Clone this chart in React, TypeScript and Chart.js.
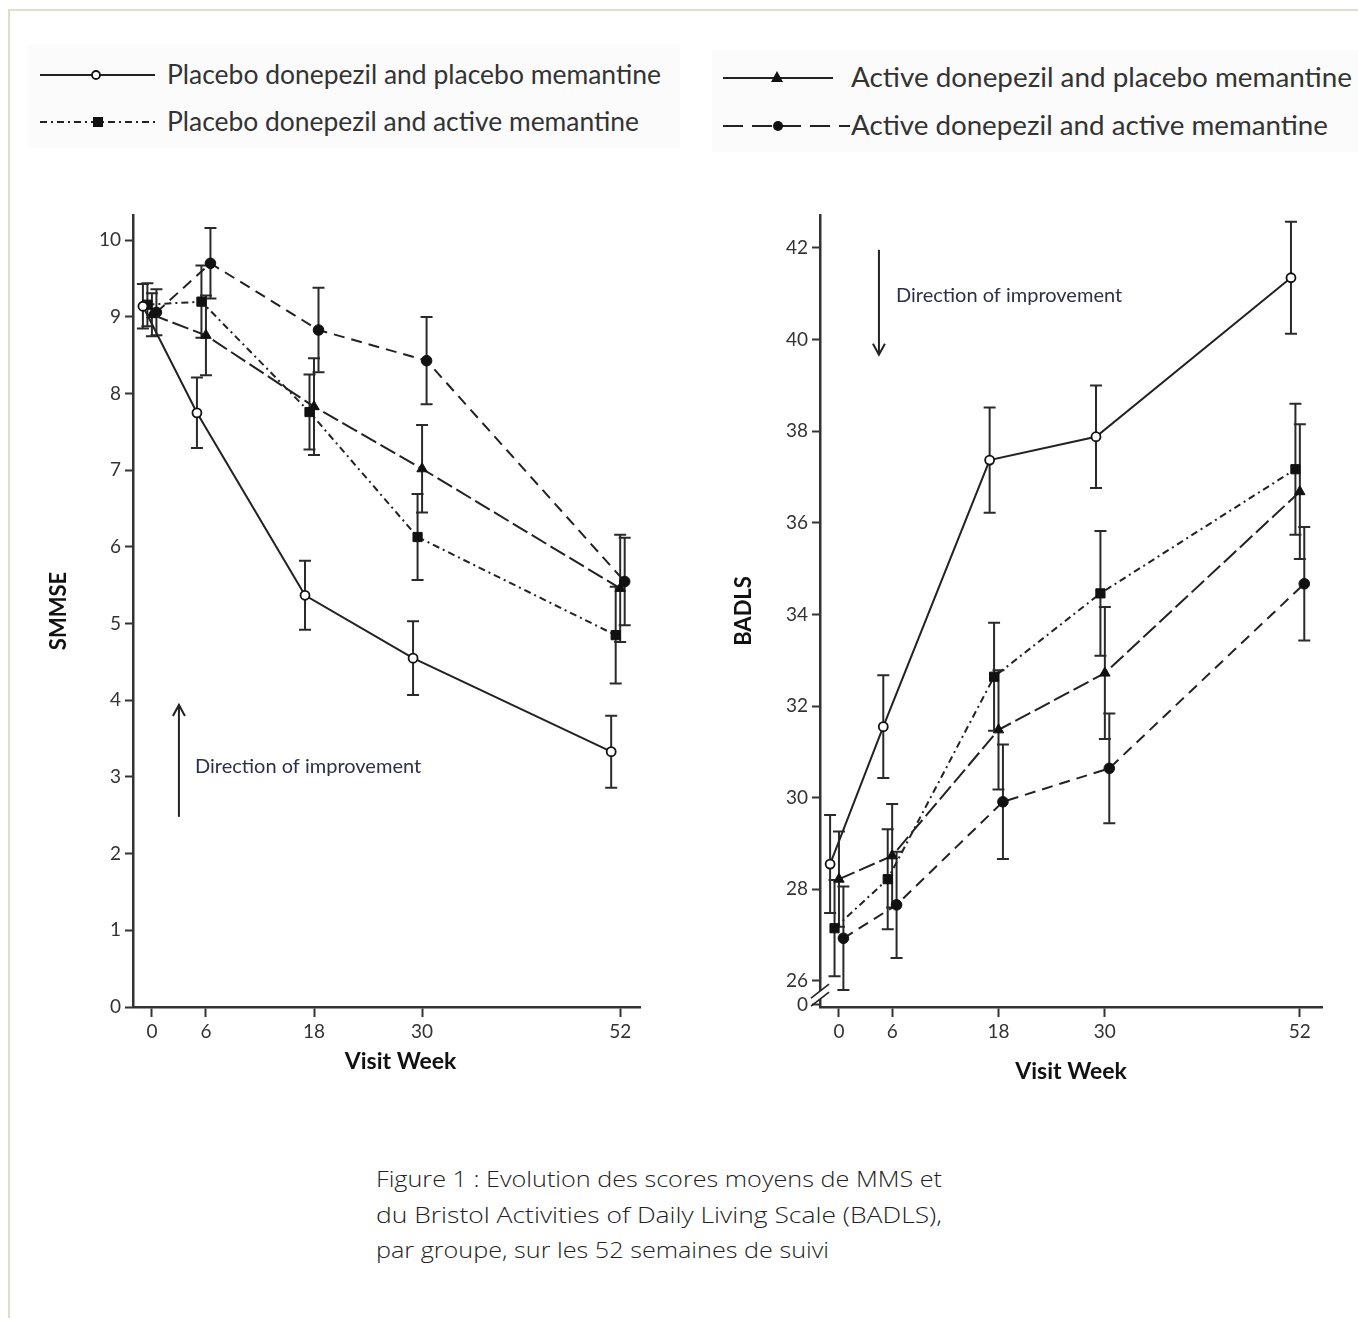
import React, { useEffect, useRef } from 'react';
import { Chart, registerables } from 'chart.js';

Chart.register(...registerables);

// ---------------- data ----------------
const WEEKS = [0, 6, 18, 30, 52];
const X_TICKS = [0, 6, 18, 30, 52];

const SERIES_NAMES = [
  'Placebo donepezil and placebo memantine',
  'Placebo donepezil and active memantine',
  'Active donepezil and placebo memantine',
  'Active donepezil and active memantine',
];

// SMMSE (left panel)
const SMMSE_PLACEBO_PLACEBO = [9.14, 7.75, 5.37, 4.55, 3.33];
const SMMSE_PLACEBO_ACTIVE = [9.16, 9.2, 7.76, 6.13, 4.85];
const SMMSE_ACTIVE_PLACEBO = [9.03, 8.76, 7.83, 7.02, 5.46];
const SMMSE_ACTIVE_ACTIVE = [9.06, 9.7, 8.83, 8.43, 5.55];
const SMMSE_ERR_PLACEBO_PLACEBO = [0.29, 0.46, 0.45, 0.48, 0.47];
const SMMSE_ERR_PLACEBO_ACTIVE = [0.28, 0.47, 0.49, 0.56, 0.63];
const SMMSE_ERR_ACTIVE_PLACEBO = [0.28, 0.52, 0.63, 0.57, 0.7];
const SMMSE_ERR_ACTIVE_ACTIVE = [0.3, 0.46, 0.55, 0.57, 0.57];
const SMMSE_TICKS = [0, 1, 2, 3, 4, 5, 6, 7, 8, 9, 10];

// BADLS (right panel)
const BADLS_PLACEBO_PLACEBO = [28.55, 31.55, 37.37, 37.88, 41.35];
const BADLS_PLACEBO_ACTIVE = [27.15, 28.22, 32.64, 34.46, 37.17];
const BADLS_ACTIVE_PLACEBO = [28.22, 28.73, 31.48, 32.72, 36.68];
const BADLS_ACTIVE_ACTIVE = [26.93, 27.66, 29.91, 30.64, 34.67];
const BADLS_ERR_PLACEBO_PLACEBO = [1.07, 1.12, 1.15, 1.12, 1.22];
const BADLS_ERR_PLACEBO_ACTIVE = [1.05, 1.09, 1.18, 1.36, 1.43];
const BADLS_ERR_ACTIVE_PLACEBO = [1.04, 1.13, 1.3, 1.44, 1.47];
const BADLS_ERR_ACTIVE_ACTIVE = [1.13, 1.16, 1.25, 1.2, 1.24];
const BADLS_TICKS = [26, 28, 30, 32, 34, 36, 38, 40, 42];
const BADLS_BREAK_LABEL = '0';

const ANNOTATION_TEXT = 'Direction of improvement';
const CAPTION_LINES = [
  'Figure 1 : Evolution des scores moyens de MMS et',
  'du Bristol Activities of Daily Living Scale (BADLS),',
  'par groupe, sur les 52 semaines de suivi',
];

// ---------------- styles ----------------
const FONT = 'Lato, "DejaVu Sans", sans-serif';
const INK = '#222';

const STYLES = [
  { offset: -1.0, dash: [] as number[], pointStyle: 'circle', radius: 4.5, fill: '#fff', bw: 1.8 },
  { offset: -0.5, dash: [7, 4, 2, 4], pointStyle: 'rect', radius: 6.5, fill: '#111', bw: 1 },
  { offset: 0.0, dash: [17, 5], pointStyle: 'triangle', radius: 6, fill: '#111', bw: 1 },
  { offset: 0.5, dash: [11, 7], pointStyle: 'circle', radius: 5.3, fill: '#111', bw: 1 },
];

const CAPTION_WIDTHS = [566, 566, 453];

const errorBarPlugin = {
  id: 'errorBars',
  beforeDatasetsDraw(chart: any) {
    const ctx = chart.ctx;
    const ys = chart.scales.y;
    ctx.save();
    ctx.strokeStyle = '#2a2a2a';
    ctx.lineWidth = 2;
    chart.data.datasets.forEach((ds: any, i: number) => {
      const meta = chart.getDatasetMeta(i);
      meta.data.forEach((pt: any, j: number) => {
        const v = ds.data[j].y;
        const e = ds.errors[j];
        const top = ys.getPixelForValue(v + e);
        const bot = ys.getPixelForValue(v - e);
        const x = pt.x;
        ctx.beginPath();
        ctx.moveTo(x, top);
        ctx.lineTo(x, bot);
        ctx.moveTo(x - 6, top);
        ctx.lineTo(x + 6, top);
        ctx.moveTo(x - 6, bot);
        ctx.lineTo(x + 6, bot);
        ctx.stroke();
      });
    });
    ctx.restore();
  },
};

const decorPlugin = {
  id: 'decor',
  afterDraw(chart: any, _args: any, o: any) {
    const ctx = chart.ctx;
    const xs = chart.scales.x;
    const ys = chart.scales.y;
    ctx.save();
    if (o && o.arrowX !== undefined) {
      const px = xs.getPixelForValue(o.arrowX);
      const pt = ys.getPixelForValue(o.tail);
      const ph = ys.getPixelForValue(o.head);
      ctx.strokeStyle = INK;
      ctx.lineWidth = 2;
      ctx.beginPath();
      ctx.moveTo(px, pt);
      ctx.lineTo(px, ph);
      ctx.stroke();
      const d = ph < pt ? 1 : -1;
      ctx.beginPath();
      ctx.moveTo(px - 6, ph + d * 11);
      ctx.lineTo(px, ph);
      ctx.lineTo(px + 6, ph + d * 11);
      ctx.stroke();
      ctx.fillStyle = '#2e2f4a';
      ctx.font = `20px ${FONT}`;
      ctx.textBaseline = 'middle';
      ctx.textAlign = 'left';
      ctx.fillText(o.text, xs.getPixelForValue(o.textX), ys.getPixelForValue(o.textY));
    }
    if (o && o.breakAt !== undefined) {
      const x = chart.chartArea.left;
      const y = ys.getPixelForValue(o.breakAt);
      ctx.fillStyle = '#fff';
      ctx.fillRect(x - 3, y - 4, 6, 8);
      ctx.strokeStyle = INK;
      ctx.lineWidth = 1.6;
      ctx.beginPath();
      for (const dy of [-4, 4]) {
        ctx.moveTo(x - 9, y + dy + 7);
        ctx.lineTo(x + 9, y + dy - 7);
      }
      ctx.stroke();
    }
    if (o && o.xTitle) {
      ctx.fillStyle = '#111';
      ctx.font = `bold 23px ${FONT}`;
      ctx.textAlign = 'center';
      ctx.textBaseline = 'middle';
      ctx.fillText(o.xTitle, (xs.left + xs.right) / 2 + o.xTitleShift, xs.bottom - o.xTitleRise);
    }
    ctx.restore();
  },
};

function buildDatasets(values: number[][], errors: number[][]) {
  return values.map((vals, k) => {
    const st = STYLES[k];
    return {
      label: SERIES_NAMES[k],
      data: WEEKS.map((w, i) => ({ x: w + st.offset, y: vals[i] })),
      errors: errors[k],
      borderColor: INK,
      borderWidth: 2,
      borderDash: st.dash,
      pointStyle: st.pointStyle,
      pointRadius: st.radius,
      pointBackgroundColor: st.fill,
      pointBorderColor: '#111',
      pointBorderWidth: st.bw,
      tension: 0,
      fill: false,
    };
  });
}

function makeConfig(p: any) {
  const tickFont = { family: FONT, size: 19 };
  return {
    type: 'line',
    data: { datasets: buildDatasets(p.values, p.errors) },
    plugins: [errorBarPlugin, decorPlugin],
    options: {
      animation: false,
      responsive: false,
      devicePixelRatio: 1,
      layout: { padding: { top: 25, right: p.padRight, left: 0, bottom: 0 } },
      plugins: {
        legend: { display: false },
        tooltip: { enabled: false },
        decor: p.decor,
      },
      scales: {
        x: {
          type: 'linear',
          min: p.xMin,
          max: p.xMax,
          afterBuildTicks: (s: any) => {
            s.ticks = X_TICKS.map((v) => ({ value: v }));
          },
          afterFit: (s: any) => {
            s.height = 93;
          },
          grid: { drawOnChartArea: false, drawTicks: true, tickLength: 10, tickWidth: 2, tickColor: '#333', color: '#333' },
          border: { display: true, color: '#333', width: 2.5 },
          ticks: { color: '#333', font: tickFont, padding: 3, maxRotation: 0, autoSkip: false },
          title: { display: false },
        },
        y: {
          type: 'linear',
          min: p.yMin,
          max: p.yMax,
          afterBuildTicks: (s: any) => {
            s.ticks = p.yTicks.map((v: number) => ({ value: v }));
          },
          afterFit: (s: any) => {
            s.width = p.yWidth;
          },
          grid: { drawOnChartArea: false, drawTicks: true, tickLength: 8, tickWidth: 2, tickColor: '#333', color: '#333' },
          border: { display: true, color: '#333', width: 2.5 },
          ticks: {
            color: '#333',
            font: tickFont,
            padding: 4,
            autoSkip: false,
            callback: p.yLabel,
          },
          title: {
            display: true,
            text: p.yTitle,
            color: '#111',
            font: { family: FONT, size: 22, weight: 'bold' },
            padding: { top: p.yTitlePad, bottom: 0 },
          },
        },
      },
    },
  };
}

function ChartCanvas({ config, left }: { config: any; left: number }) {
  const ref = useRef<HTMLCanvasElement | null>(null);
  useEffect(() => {
    if (!ref.current) return;
    const chart = new Chart(ref.current, config);
    return () => chart.destroy();
  }, []);
  return (
    <canvas
      ref={ref}
      width={640}
      height={910}
      style={{ position: 'absolute', left, top: 190, width: 640, height: 910 }}
    />
  );
}

const leftConfig = makeConfig({
  values: [SMMSE_PLACEBO_PLACEBO, SMMSE_PLACEBO_ACTIVE, SMMSE_ACTIVE_PLACEBO, SMMSE_ACTIVE_ACTIVE],
  errors: [SMMSE_ERR_PLACEBO_PLACEBO, SMMSE_ERR_PLACEBO_ACTIVE, SMMSE_ERR_ACTIVE_PLACEBO, SMMSE_ERR_ACTIVE_ACTIVE],
  xMin: -2.1,
  xMax: 54.2,
  yMin: 0,
  yMax: 10.33,
  yTicks: SMMSE_TICKS,
  yLabel: (v: number) => String(v),
  yWidth: 103,
  padRight: 30,
  yTitle: 'SMMSE',
  yTitlePad: 16,
  decor: {
    arrowX: 3, tail: 2.48, head: 3.94, text: ANNOTATION_TEXT, textX: 4.78, textY: 3.13,
    xTitle: 'Visit Week', xTitleShift: 14, xTitleRise: 38,
  },
});

const rightConfig = makeConfig({
  values: [BADLS_PLACEBO_PLACEBO, BADLS_PLACEBO_ACTIVE, BADLS_ACTIVE_PLACEBO, BADLS_ACTIVE_ACTIVE],
  errors: [BADLS_ERR_PLACEBO_PLACEBO, BADLS_ERR_PLACEBO_ACTIVE, BADLS_ERR_ACTIVE_PLACEBO, BADLS_ERR_ACTIVE_ACTIVE],
  xMin: -2.14,
  xMax: 54.5,
  yMin: 25.43,
  yMax: 42.72,
  yTicks: [25.476, ...BADLS_TICKS],
  yLabel: (v: number) => (v < BADLS_TICKS[0] ? BADLS_BREAK_LABEL : String(v)),
  yWidth: 120,
  padRight: 18,
  yTitle: 'BADLS',
  yTitlePad: 31,
  decor: {
    arrowX: 4.51, tail: 41.96, head: 39.67, text: ANNOTATION_TEXT, textX: 6.43, textY: 40.96, breakAt: 25.69,
    xTitle: 'Visit Week', xTitleShift: 0, xTitleRise: 28,
  },
});

function Legend() {
  const txt = { fontFamily: FONT, fontSize: 26, fill: '#333' } as any;
  return (
    <svg width={1358} height={160} style={{ position: 'absolute', left: 0, top: 0 }}>
      <rect x={28} y={45} width={652} height={103} fill="#fbfbfb" />
      <rect x={712} y={50} width={646} height={102} fill="#fbfbfb" />
      {/* row 1 left */}
      <line x1={40} y1={75} x2={155} y2={75} stroke={INK} strokeWidth={2} />
      <circle cx={96} cy={75} r={4} fill="#fff" stroke="#111" strokeWidth={1.8} />
      <text x={167} y={84} textLength={494} lengthAdjust="spacingAndGlyphs" style={txt}>
        {SERIES_NAMES[0]}
      </text>
      {/* row 2 left */}
      <line x1={40} y1={122} x2={155} y2={122} stroke={INK} strokeWidth={2} strokeDasharray="7 4 2 4" />
      <rect x={93} y={117} width={10} height={10} fill="#111" />
      <text x={167} y={131} textLength={472} lengthAdjust="spacingAndGlyphs" style={txt}>
        {SERIES_NAMES[1]}
      </text>
      {/* row 1 right */}
      <line x1={723} y1={78} x2={833} y2={78} stroke={INK} strokeWidth={2} />
      <polygon points="777,71 783,82 771,82" fill="#111" />
      <text x={851} y={87} textLength={501} lengthAdjust="spacingAndGlyphs" style={txt}>
        {SERIES_NAMES[2]}
      </text>
      {/* row 2 right */}
      <line x1={723} y1={126} x2={850} y2={126} stroke={INK} strokeWidth={2} strokeDasharray="20 9" />
      <circle cx={778} cy={126} r={5} fill="#111" />
      <text x={851} y={135} textLength={477} lengthAdjust="spacingAndGlyphs" style={txt}>
        {SERIES_NAMES[3]}
      </text>
    </svg>
  );
}

function Caption() {
  const st = {
    fontFamily: '"Open Sans", Roboto, sans-serif',
    fontWeight: 300,
    fontSize: 22,
    fill: '#222',
  } as any;
  return (
    <svg width={700} height={120} style={{ position: 'absolute', left: 370, top: 1160 }}>
      {CAPTION_LINES.map((l, i) => (
        <text key={i} x={6} y={27 + i * 35.5} textLength={CAPTION_WIDTHS[i]} lengthAdjust="spacingAndGlyphs" style={st}>
          {l}
        </text>
      ))}
    </svg>
  );
}

export default function App() {
  return (
    <div
      style={{
        position: 'absolute',
        left: 0,
        top: 0,
        width: 1358,
        height: 1318,
        background: '#fff',
        overflow: 'hidden',
      }}
    >
      <div
        style={{
          position: 'absolute',
          left: 8,
          top: 9,
          width: 1400,
          height: 1400,
          border: '2px solid #dfdecb',
        }}
      />
      <Legend />
      <ChartCanvas config={leftConfig} left={30} />
      <ChartCanvas config={rightConfig} left={700} />
      <Caption />
    </div>
  );
}
